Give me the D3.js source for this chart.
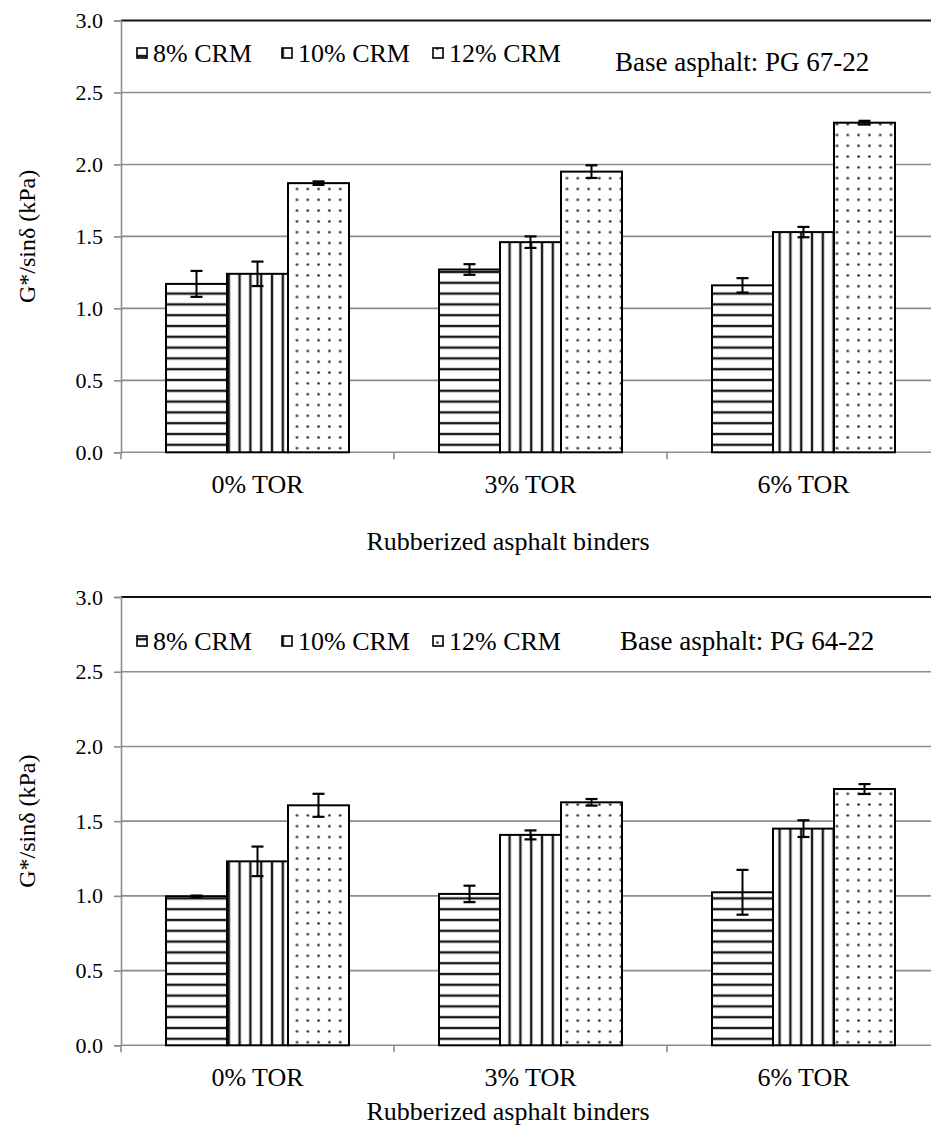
<!DOCTYPE html>
<html>
<head>
<meta charset="utf-8">
<script src="https://cdn.jsdelivr.net/npm/d3@7"></script>
<style>
  body { margin: 0; background: #fff; }
</style>
</head>
<body>
<div id="chart-area"></div>
<script>
// two grouped bar charts of G*/sin(delta) for rubberized binders, one per base asphalt

const categories = ["0% TOR", "3% TOR", "6% TOR"];
const series = ["8% CRM", "10% CRM", "12% CRM"];
const yTicks = [0, 0.5, 1.0, 1.5, 2.0, 2.5, 3.0];

// values per series, one entry per category
const pg6722Values = [
  [1.17, 1.27, 1.16],
  [1.24, 1.46, 1.53],
  [1.87, 1.95, 2.29],
];
const pg6722Errors = [
  [0.09, 0.037, 0.05],
  [0.085, 0.04, 0.036],
  [0.012, 0.044, 0.013],
];

const pg6422Values = [
  [0.997, 1.013, 1.024],
  [1.231, 1.408, 1.45],
  [1.606, 1.626, 1.715],
];
const pg6422Errors = [
  [0.005, 0.055, 0.15],
  [0.099, 0.03, 0.056],
  [0.077, 0.022, 0.033],
];

let serif = "'Liberation Serif', 'Times New Roman', 'DejaVu Serif', serif";

let width = 931,
  height = 1128;

let svg = d3
  .select("#chart-area")
  .append("svg")
  .attr("width", width)
  .attr("height", height);

// ---- PATTERNS ----
let defs = svg.append("defs");
let step = 10.8;

let ph = defs.append("pattern")
  .attr("id", "pat-h")
  .attr("patternUnits", "userSpaceOnUse")
  .attr("width", 10)
  .attr("height", step);
ph.append("rect").attr("width", 10).attr("height", step).attr("fill", "#fff");
ph.append("line")
  .attr("x1", 0).attr("x2", 10)
  .attr("y1", 2).attr("y2", 2)
  .attr("stroke", "#1a1a1a").attr("stroke-width", 2.4);

let pv = defs.append("pattern")
  .attr("id", "pat-v")
  .attr("patternUnits", "userSpaceOnUse")
  .attr("width", step)
  .attr("height", 10);
pv.append("rect").attr("width", step).attr("height", 10).attr("fill", "#fff");
pv.append("line")
  .attr("x1", 2).attr("x2", 2)
  .attr("y1", 0).attr("y2", 10)
  .attr("stroke", "#1a1a1a").attr("stroke-width", 2.4);

let pd = defs.append("pattern")
  .attr("id", "pat-d")
  .attr("patternUnits", "userSpaceOnUse")
  .attr("width", step)
  .attr("height", step);
pd.append("rect").attr("width", step).attr("height", step).attr("fill", "#fff");
pd.append("circle")
  .attr("cx", step / 2).attr("cy", step / 2)
  .attr("r", 1.3)
  .attr("fill", "#222");

let fills = ["url(#pat-h)", "url(#pat-v)", "url(#pat-d)"];

function drawChart(cfg) {
  let g = svg.append("g");

  let y = d3.scaleLinear().domain([0, 3]).range([cfg.bottom, cfg.top]);
  let x0 = d3.scaleBand().domain(categories).range([121, 940]);
  let x1 = d3.scaleBand().domain(series).range([45, 228]);

  // gridlines
  g.selectAll(".grid")
    .data(yTicks.filter((d) => d > 0))
    .enter()
    .append("line")
    .attr("x1", 121)
    .attr("x2", 940)
    .attr("y1", (d) => y(d))
    .attr("y2", (d) => y(d))
    .attr("stroke", (d) => (d === 3 ? "#111" : "#8c8c8c"))
    .attr("stroke-width", (d) => (d === 3 ? 2 : 1.6));

  // y axis
  let yAxis = d3.axisLeft(y)
    .tickValues(yTicks)
    .tickFormat(d3.format(".1f"))
    .tickSize(7)
    .tickPadding(11);
  let yg = g.append("g")
    .attr("transform", "translate(121,0)")
    .call(yAxis)
    .attr("font-family", serif);
  yg.select(".domain").attr("stroke", "#8c8c8c").attr("stroke-width", 1.6);
  yg.selectAll(".tick line").attr("stroke", "#8c8c8c").attr("stroke-width", 1.6);
  yg.selectAll(".tick text")
    .attr("font-size", 22)
    .attr("fill", "#000");

  // x axis line and boundary ticks
  g.append("line")
    .attr("x1", 121).attr("x2", 940)
    .attr("y1", y(0)).attr("y2", y(0))
    .attr("stroke", "#8c8c8c").attr("stroke-width", 1.6);
  let bounds = categories.map((c) => x0(c)).concat([x0.range()[1]]);
  g.selectAll(".xtick")
    .data(bounds)
    .enter()
    .append("line")
    .attr("x1", (d) => d).attr("x2", (d) => d)
    .attr("y1", y(0)).attr("y2", y(0) + 7)
    .attr("stroke", "#8c8c8c").attr("stroke-width", 1.6);

  g.selectAll(".xlabel")
    .data(categories)
    .enter()
    .append("text")
    .attr("x", (d) => x0(d) + x0.bandwidth() / 2)
    .attr("y", cfg.catY)
    .attr("text-anchor", "middle")
    .attr("font-size", 26)
    .text((d) => d);

  // ---- DRAW BARS ----
  series.forEach((s, si) => {
    let rows = categories.map((c, ci) => ({
      cat: c,
      v: cfg.values[si][ci],
      e: cfg.errors[si][ci],
    }));

    g.selectAll(".bar-" + si)
      .data(rows)
      .enter()
      .append("rect")
      .attr("x", (d) => x0(d.cat) + x1(s))
      .attr("y", (d) => y(d.v))
      .attr("width", x1.bandwidth())
      .attr("height", (d) => y(0) - y(d.v))
      .attr("fill", fills[si])
      .attr("stroke", "#000")
      .attr("stroke-width", 2);

    // error bars
    let eb = g.selectAll(".err-" + si)
      .data(rows)
      .enter()
      .append("g")
      .attr("transform", (d) =>
        "translate(" + (x0(d.cat) + x1(s) + x1.bandwidth() / 2) + ",0)"
      );
    eb.append("line")
      .attr("y1", (d) => y(d.v + d.e))
      .attr("y2", (d) => y(d.v - d.e))
      .attr("stroke", "#000").attr("stroke-width", 2);
    eb.append("line")
      .attr("x1", -6).attr("x2", 6)
      .attr("y1", (d) => y(d.v + d.e))
      .attr("y2", (d) => y(d.v + d.e))
      .attr("stroke", "#000").attr("stroke-width", 2.2);
    eb.append("line")
      .attr("x1", -6).attr("x2", 6)
      .attr("y1", (d) => y(d.v - d.e))
      .attr("y2", (d) => y(d.v - d.e))
      .attr("stroke", "#000").attr("stroke-width", 2.2);
  });

  // ---- LEGEND ----
  let legendX = [137, 282, 433];
  series.forEach((s, si) => {
    g.append("rect")
      .attr("x", legendX[si])
      .attr("y", cfg.legendY - 14)
      .attr("width", 10)
      .attr("height", 10)
      .attr("fill", fills[si])
      .attr("stroke", "#000")
      .attr("stroke-width", 1.6);
    g.append("text")
      .attr("x", legendX[si] + 16)
      .attr("y", cfg.legendY)
      .attr("font-size", 26)
      .text(s);
  });

  g.append("text")
    .attr("x", cfg.noteX)
    .attr("y", cfg.noteY)
    .attr("font-size", 27)
    .text(cfg.note);

  // axis titles
  g.append("text")
    .attr("x", 508)
    .attr("y", cfg.titleY)
    .attr("text-anchor", "middle")
    .attr("font-size", 26)
    .text("Rubberized asphalt binders");

  g.append("text")
    .attr("transform", "translate(35," + (cfg.top + cfg.bottom) / 2 + ") rotate(-90)")
    .attr("text-anchor", "middle")
    .attr("font-size", 24)
    .text("G*/sinδ (kPa)");
}

drawChart({
  top: 20.5,
  bottom: 452.3,
  values: pg6722Values,
  errors: pg6722Errors,
  note: "Base asphalt: PG 67-22",
  noteX: 615,
  noteY: 71,
  legendY: 62,
  catY: 493,
  titleY: 550,
});

drawChart({
  top: 597,
  bottom: 1045.3,
  values: pg6422Values,
  errors: pg6422Errors,
  note: "Base asphalt: PG 64-22",
  noteX: 620,
  noteY: 650,
  legendY: 650,
  catY: 1086,
  titleY: 1120,
});

// serif everywhere, as in the original
svg.selectAll("text")
  .attr("font-family", serif)
  .style("font-family", serif)
  .attr("fill", "#000");
</script>
</body>
</html>
